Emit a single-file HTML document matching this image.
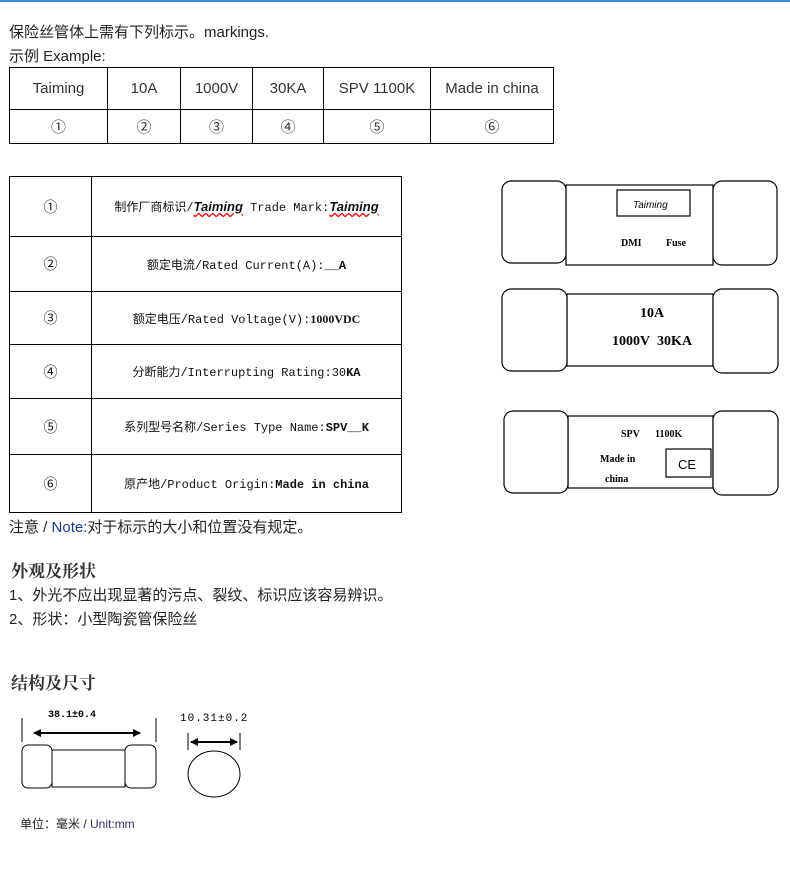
<!DOCTYPE html>
<html><head><meta charset="utf-8"><style>
body{margin:0;width:790px;height:879px;background:#fff;position:relative;overflow:hidden;font-family:"Liberation Sans","Noto Sans CJK SC",sans-serif;color:#222}
.a{position:absolute;white-space:nowrap}
table{border-collapse:collapse;position:absolute}
td{border:1px solid #000;padding:0;text-align:center}
.t1 td{font-size:15px;color:#333}
.t2 td{font-family:"Liberation Mono","Noto Sans CJK SC",monospace;font-size:12px;color:#111}
.h{font-family:"Liberation Serif","Noto Serif CJK SC",serif;font-weight:bold;font-size:17px;color:#333}
</style></head><body>
<div style="position:absolute;left:0;top:0;width:790px;height:2px;background:#3a8ee6"></div>
<div class="a" style="left:9px;top:21px;font-size:15px">保险丝管体上需有下列标示。markings.</div>
<div class="a" style="left:9px;top:45px;font-size:15px">示例 Example:</div>
<table class="t1" style="left:9px;top:67px;width:545px">
<tr style="height:42px"><td style="width:97px">Taiming</td><td style="width:72px">10A</td><td style="width:71px">1000V</td><td style="width:70px">30KA</td><td style="width:106px">SPV 1100K</td><td>Made in china</td></tr>
<tr style="height:34px"><td>①</td><td>②</td><td>③</td><td>④</td><td>⑤</td><td>⑥</td></tr>
</table>
<table class="t2" style="left:9px;top:176px;width:393px">
<tr style="height:60px"><td style="width:81px;font-size:14px">①</td><td>制作厂商标识/<i style="font-family:'Liberation Sans';font-weight:bold;font-size:13px;text-decoration:underline wavy red">Taiming</i> Trade Mark:<i style="font-family:'Liberation Sans';font-weight:bold;font-size:13px;text-decoration:underline wavy red">Taiming</i></td></tr>
<tr style="height:55px"><td style="font-size:14px">②</td><td>额定电流/Rated Current(A):<b>__A</b></td></tr>
<tr style="height:53px"><td style="font-size:14px">③</td><td>额定电压/Rated Voltage(V):<b style="font-family:'Liberation Serif'">1000VDC</b></td></tr>
<tr style="height:54px"><td style="font-size:14px">④</td><td>分断能力/Interrupting Rating:30<b>KA</b></td></tr>
<tr style="height:56px"><td style="font-size:14px">⑤</td><td>系列型号名称/Series Type Name:<b>SPV__K</b></td></tr>
<tr style="height:58px"><td style="font-size:14px">⑥</td><td>原产地/Product Origin:<b>Made in china</b></td></tr>
</table>
<div class="a" style="left:9px;top:516px;font-size:15px">注意 / <span style="color:#1a3a8a">Note:</span>对于标示的大小和位置没有规定。</div>
<div class="a h" style="left:11px;top:557px">外观及形状</div>
<div class="a" style="left:9px;top:584px;font-size:15px">1、外光不应出现显著的污点、裂纹、标识应该容易辨识。</div>
<div class="a" style="left:9px;top:608px;font-size:15px">2、形状：小型陶瓷管保险丝</div>
<div class="a h" style="left:11px;top:669px">结构及尺寸</div>
<svg style="position:absolute;left:0;top:0" width="790" height="879" font-family="Liberation Serif" >
<defs><marker id="ar" markerUnits="userSpaceOnUse" markerWidth="8" markerHeight="8" refX="7" refY="4" orient="auto-start-reverse"><path d="M0,0 L8,4 L0,8 z" fill="#000"/></marker></defs>
<g fill="#fff" stroke="#000" stroke-width="1.2">
<rect x="566" y="185" width="147" height="80"/>
<rect x="502" y="181" width="64" height="82" rx="9"/>
<rect x="713" y="181" width="64" height="84" rx="9"/>
<rect x="567" y="294" width="146" height="72"/>
<rect x="502" y="289" width="65" height="82" rx="9"/>
<rect x="713" y="289" width="65" height="84" rx="9"/>
<rect x="568" y="416" width="145" height="72"/>
<rect x="504" y="411" width="64" height="82" rx="9"/>
<rect x="713" y="411" width="65" height="84" rx="9"/>
<rect x="617" y="190" width="73" height="26"/>
<rect x="666" y="449" width="45" height="28"/>
</g>
<text x="633" y="208" font-family="Liberation Sans" font-style="italic" font-size="10">Taiming</text>
<g font-weight="bold" font-size="10">
<text x="621" y="246">DMI</text><text x="666" y="246">Fuse</text>
<text x="621" y="437">SPV</text><text x="655" y="437">1100K</text>
<text x="600" y="462">Made in</text><text x="605" y="482">china</text>
</g>
<text x="678" y="469" font-family="Liberation Sans" font-size="13">CE</text>
<g font-weight="bold" font-size="14" text-anchor="middle"><text x="652" y="317">10A</text><text x="652" y="345">1000V&#160;&#160;30KA</text></g>
<g font-family="Liberation Mono" font-size="10" font-weight="bold"><text x="48" y="717">38.1±0.4</text><text x="180" y="721" font-weight="normal" font-size="11" letter-spacing="1">10.31±0.2</text></g>
<g stroke="#000" stroke-width="1">
<line x1="22" y1="718" x2="22" y2="742"/><line x1="156" y1="718" x2="156" y2="742"/>
<line x1="34" y1="733" x2="140" y2="733" stroke-width="2" marker-start="url(#ar)" marker-end="url(#ar)"/>
<line x1="188" y1="733" x2="188" y2="750"/><line x1="240" y1="733" x2="240" y2="750"/>
<line x1="191" y1="742" x2="237" y2="742" stroke-width="2" marker-start="url(#ar)" marker-end="url(#ar)"/>
<rect x="52" y="750" width="73" height="37" fill="#fff"/>
<rect x="22" y="745" width="30" height="43" rx="6" fill="#fff"/>
<rect x="125" y="745" width="31" height="43" rx="6" fill="#fff"/>
<ellipse cx="214" cy="774" rx="26" ry="23" fill="#fff"/>
</g>
</svg>
<div class="a" style="left:20px;top:815px;font-size:12px">单位：毫米 / <span style="color:#3a2a7a">Unit:mm</span></div>
</body></html>
